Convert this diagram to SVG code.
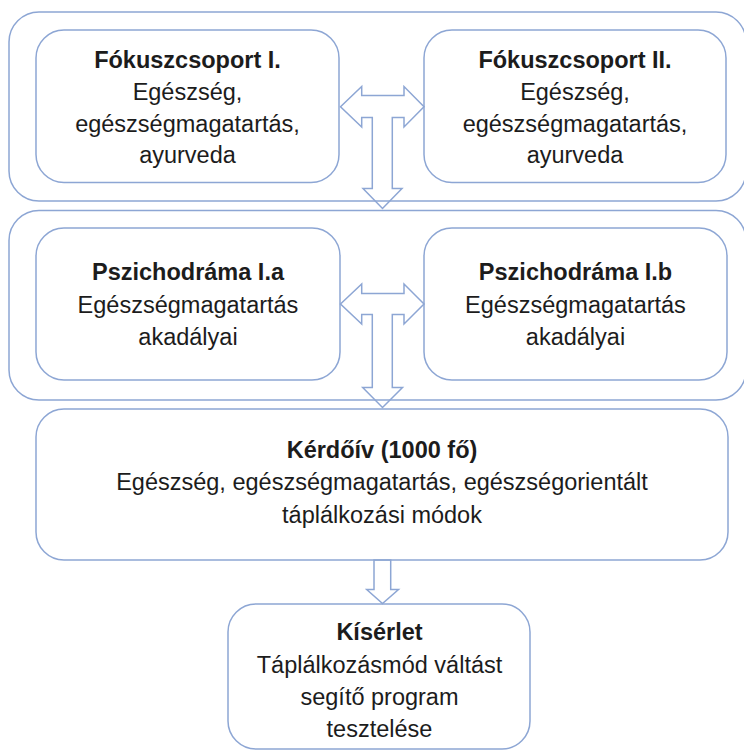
<svg xmlns="http://www.w3.org/2000/svg" width="744" height="752" viewBox="0 0 744 752">
<style>
.box{fill:#ffffff;stroke:#8DA6D4;stroke-width:1.5}
.grp{fill:none;stroke:#8DA6D4;stroke-width:1.5}
.arr{fill:none;stroke:#8DA6D4;stroke-width:1.5;stroke-linejoin:miter}
text{font-family:"Liberation Sans",Arial,sans-serif;font-size:23.5px;fill:#1c1c1c;text-anchor:middle}
.b{font-weight:bold}
</style>
<rect width="744" height="752" fill="#ffffff"/>
<g id="group1"><rect class="grp" x="9" y="12" width="737" height="189" rx="30" ry="30"/></g>
<g id="group2"><rect class="grp" x="9" y="210.5" width="737" height="189.5" rx="30" ry="30"/></g>
<g id="fokusz1">
<rect class="box" x="36" y="30" width="303" height="152.5" rx="28" ry="28"/>
<text x="187.5" y="68" class="b">Fókuszcsoport I.</text>
<text x="187.5" y="100">Egészség,</text>
<text x="187.5" y="131.5">egészségmagatartás,</text>
<text x="187.5" y="163">ayurveda</text>
</g>
<g id="fokusz2">
<rect class="box" x="424" y="30" width="302" height="152.5" rx="28" ry="28"/>
<text x="575" y="68" class="b">Fókuszcsoport II.</text>
<text x="575" y="100">Egészség,</text>
<text x="575" y="131.5">egészségmagatartás,</text>
<text x="575" y="163">ayurveda</text>
</g>
<g id="pszicho1a">
<rect class="box" x="36" y="228" width="304" height="152" rx="28" ry="28"/>
<text x="188" y="280" class="b">Pszichodráma I.a</text>
<text x="188" y="312.5">Egészségmagatartás</text>
<text x="188" y="345">akadályai</text>
</g>
<g id="pszicho1b">
<rect class="box" x="424" y="228" width="303" height="152" rx="28" ry="28"/>
<text x="575.5" y="280" class="b">Pszichodráma I.b</text>
<text x="575.5" y="312.5">Egészségmagatartás</text>
<text x="575.5" y="345">akadályai</text>
</g>
<g id="kerdoiv">
<rect class="box" x="36" y="409" width="692" height="151" rx="28" ry="28"/>
<text x="382" y="458" class="b">Kérdőív (1000 fő)</text>
<text x="382" y="490">Egészség, egészségmagatartás, egészségorientált</text>
<text x="382" y="523">táplálkozási módok</text>
</g>
<g id="kiserlet">
<rect class="box" x="228" y="604" width="302" height="145" rx="28" ry="28"/>
<text x="379.5" y="640" class="b">Kísérlet</text>
<text x="379.5" y="673">Táplálkozásmód váltást</text>
<text x="379.5" y="705">segítő program</text>
<text x="379.5" y="736.5">tesztelése</text>
</g>
<g id="connectors">
<polygon class="arr" points="340.5,106.7 361.7,86.5 361.7,95.5 404,95.5 404,86.5 424,106.7 404,127 404,117.5 392.3,117.5 392.3,188.5 402,188.5 382.5,208.5 363,188.5 372.3,188.5 372.3,117.5 361.7,117.5 361.7,127"/>
<polygon class="arr" points="340.5,304 361.7,284 361.7,293.5 404,293.5 404,284 424,304 404,324 404,314.5 392.3,314.5 392.3,387.5 402.5,387.5 382.5,407.5 362.7,387.5 372.3,387.5 372.3,314.5 361.7,314.5 361.7,324"/>
<polygon class="arr" points="374,560 390.7,560 390.7,589.5 398.5,589.5 382.5,603.5 366.7,589.5 374,589.5"/>
</g>
</svg>
